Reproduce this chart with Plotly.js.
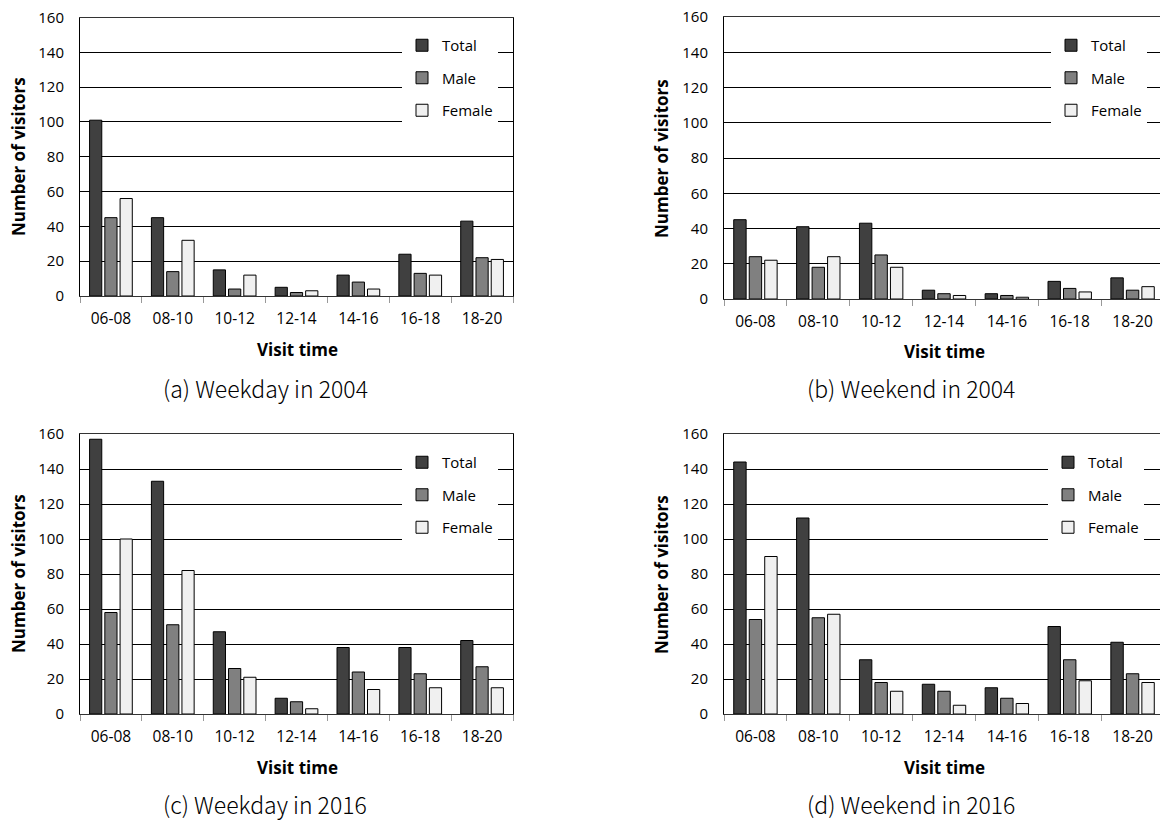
<!DOCTYPE html>
<html><head><meta charset="utf-8">
<script src="https://cdn.plot.ly/plotly-3.0.1.min.js"></script>
<style>html,body{margin:0;padding:0;overflow:hidden;background:#fff}#chart{width:1166px;height:822px}</style>
</head><body><div id="chart"></div>
<script>
const categories = ["06-08","08-10","10-12","12-14","14-16","16-18","18-20"];
const seriesNames = ["Total","Male","Female"];
const panelCaptions = ["(a) Weekday in 2004","(b) Weekend in 2004","(c) Weekday in 2016","(d) Weekend in 2016"];
const xTitle = "Visit time";
const yTitle = "Number of visitors";

const weekday2004Total  = [101,45,15,5,12,24,43];
const weekday2004Male   = [45,14,4,2,8,13,22];
const weekday2004Female = [56,32,12,3,4,12,21];

const weekend2004Total  = [45,41,43,5,3,10,12];
const weekend2004Male   = [24,18,25,3,2,6,5];
const weekend2004Female = [22,24,18,2,1,4,7];

const weekday2016Total  = [157,133,47,9,38,38,42];
const weekday2016Male   = [58,51,26,7,24,23,27];
const weekday2016Female = [100,82,21,3,14,15,15];

const weekend2016Total  = [144,112,31,17,15,50,41];
const weekend2016Male   = [54,55,18,13,9,31,23];
const weekend2016Female = [90,57,13,5,6,19,18];

const panelData = [
  [weekday2004Total, weekday2004Male, weekday2004Female],
  [weekend2004Total, weekend2004Male, weekend2004Female],
  [weekday2016Total, weekday2016Male, weekday2016Female],
  [weekend2016Total, weekend2016Male, weekend2016Female]
];

const W = 1166, H = 822;
const FONT = '"Open Sans", "Noto Sans", sans-serif';
const CAPFONT = '"Noto Sans CJK KR", "Noto Sans", sans-serif';
const colors = ['#404040', '#808080', '#f0f0f0'];
const px = v => v / W;
const py = v => 1 - v / H;

// panel geometry in pixels: [left, right, top, bottom]
const geom = [
  [80, 513, 17.5, 296],
  [724, 1164, 17, 299],
  [80, 513, 434, 714],
  [724, 1164, 434, 714]
];
const legendPos = [[402, 29], [1051, 29], [402, 446], [1048, 446]];
const xTitlePos = [[297, 349], [944, 352], [297, 767], [944, 767]];
const yTitlePos = [[18, 157], [661, 158], [18, 574], [661, 574]];
const captionPos = [[265, 388], [911, 388], [265, 804], [911, 804]];

const traces = [];
const layout = {
  width: W, height: H,
  margin: {l: 0, r: 0, t: 0, b: 0},
  paper_bgcolor: '#fff', plot_bgcolor: '#fff',
  barmode: 'group', bargap: 0.26, bargroupgap: 0.2,
  font: {family: FONT, size: 15, color: '#000'},
  showlegend: true,
  annotations: []
};

for (let p = 0; p < 4; p++) {
  const sfx = p === 0 ? '' : String(p + 1);
  const [l, r, t, b] = geom[p];
  const legName = 'legend' + sfx;
  for (let s = 0; s < 3; s++) {
    traces.push({
      type: 'bar', x: categories, y: panelData[p][s], name: seriesNames[s],
      xaxis: 'x' + sfx, yaxis: 'y' + sfx, legend: legName,
      legendgroup: 'p' + p + 's' + s,
      marker: {color: colors[s], line: {color: '#000', width: 1}},
      hoverinfo: 'x+y+name'
    });
  }
  layout['xaxis' + sfx] = {
    domain: [px(l), px(r)], anchor: 'y' + sfx,
    type: 'category',
    showline: true, linecolor: '#333', linewidth: 1, mirror: true,
    ticks: 'outside', tickson: 'boundaries', ticklen: 6, tickcolor: '#999', tickwidth: 1,
    ticklabelstandoff: 8,
    tickfont: {family: FONT, size: 15.5, color: '#000'},
    showgrid: false, zeroline: false,
    fixedrange: true
  };
  layout['yaxis' + sfx] = {
    domain: [py(b), py(t)], anchor: 'x' + sfx,
    range: [0, 160], dtick: 20, tick0: 0,
    showline: true, linecolor: '#000', linewidth: 1, mirror: true,
    showgrid: true, gridcolor: '#000', gridwidth: 1,
    zeroline: false, ticks: '',
    ticklabelstandoff: 12,
    tickfont: {family: FONT, size: 15, color: '#000'},
    fixedrange: true
  };
  layout[legName] = {
    x: px(legendPos[p][0]), y: py(legendPos[p][1]), xanchor: 'left', yanchor: 'top',
    bgcolor: '#fff', borderwidth: 0,
    font: {family: FONT, size: 15, color: '#000'},
    tracegroupgap: 10, traceorder: 'grouped'
  };
  layout.annotations.push({
    text: '<b>' + xTitle + '</b>', xref: 'paper', yref: 'paper',
    x: px(xTitlePos[p][0]), y: py(xTitlePos[p][1]), xanchor: 'center', yanchor: 'middle',
    showarrow: false, font: {family: FONT, size: 17, color: '#000'}
  });
  layout.annotations.push({
    text: '<b>' + yTitle + '</b>', xref: 'paper', yref: 'paper', textangle: -90,
    x: px(yTitlePos[p][0]), y: py(yTitlePos[p][1]), xanchor: 'center', yanchor: 'middle',
    showarrow: false, font: {family: FONT, size: 17, color: '#000'}
  });
  layout.annotations.push({
    text: panelCaptions[p], xref: 'paper', yref: 'paper',
    x: px(captionPos[p][0]), y: py(captionPos[p][1]), xanchor: 'center', yanchor: 'middle',
    showarrow: false, font: {family: CAPFONT, size: 23, color: '#000', weight: 300}
  });
}

Plotly.newPlot('chart', traces, layout, {displayModeBar: false});
</script>
</body></html>
